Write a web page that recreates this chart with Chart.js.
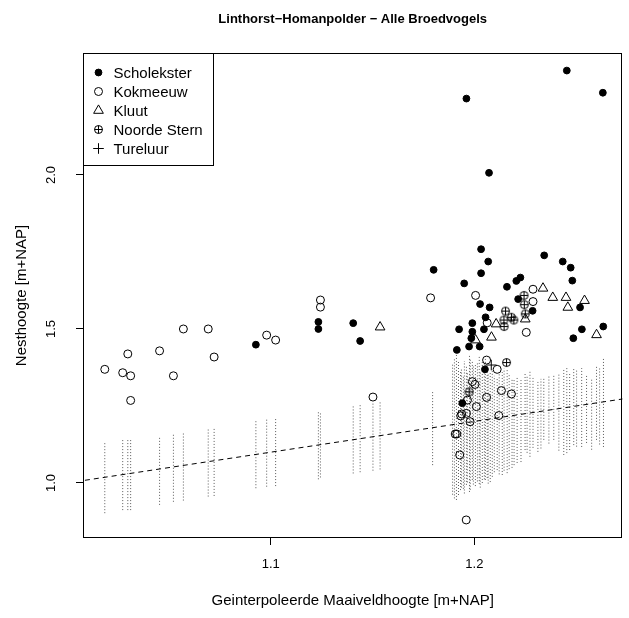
<!DOCTYPE html>
<html>
<head>
<meta charset="utf-8">
<title>Linthorst-Homanpolder - Alle Broedvogels</title>
<script src="https://cdn.jsdelivr.net/npm/chart.js@4.4.1/dist/chart.umd.min.js"></script>
<style>
  html, body { margin: 0; padding: 0; background: #fff; }
  #wrap { width: 629px; height: 618px; }
</style>
</head>
<body>
<div id="wrap"><canvas id="nestChart" width="629" height="618"></canvas></div>
<script>
// axis limits and ticks (R style, 4% extended)
const xMin = 1.0078, xMax = 1.2727;
const yMin = 0.8214, yMax = 2.396;
const xTicks = [1.1, 1.2];
const yTicks = [1.0, 1.5, 2.0];

// reference line nesthoogte = maaiveldhoogte
const ablineA = 0;
const ablineB = 1;

const scholeksterX = [1.0927, 1.1234, 1.1234, 1.1405, 1.1439, 1.180, 1.1961, 1.2454, 1.2631, 1.2072,
  1.2033, 1.2068, 1.2033, 1.195, 1.216, 1.2206, 1.2226, 1.2343, 1.2434, 1.2473,
  1.2481, 1.2028, 1.2075, 1.2215, 1.2286, 1.2519, 1.199, 1.1925, 1.199, 1.2055,
  1.2047, 1.1985, 1.1974, 1.2026, 1.1914, 1.2486, 1.2528, 1.2633, 1.2052, 1.1941];
const scholeksterY = [1.449, 1.523, 1.500, 1.519, 1.461, 1.692, 2.248, 2.339, 2.267, 2.007,
  1.759, 1.719, 1.681, 1.648, 1.637, 1.656, 1.667, 1.739, 1.719, 1.699,
  1.657, 1.581, 1.570, 1.597, 1.559, 1.570, 1.519, 1.499, 1.491, 1.538,
  1.499, 1.470, 1.443, 1.443, 1.432, 1.470, 1.499, 1.508, 1.369, 1.259];

const kokmeeuwX = [1.0185, 1.0273, 1.0312, 1.0298, 1.0312, 1.0454, 1.0522, 1.0571, 1.0693, 1.0722,
  1.098, 1.1024, 1.1244, 1.1244, 1.1502, 1.1785, 1.2006, 1.2288, 1.2288, 1.2255,
  1.2063, 1.206, 1.2112, 1.199, 1.2003, 1.2133, 1.2182, 1.206, 1.1966, 1.201,
  1.1938, 1.1933, 1.1961, 1.1979, 1.212, 1.1914, 1.1906, 1.1928, 1.196];
const kokmeeuwY = [1.369, 1.358, 1.348, 1.419, 1.268, 1.429, 1.348, 1.500, 1.500, 1.409,
  1.480, 1.464, 1.594, 1.571, 1.279, 1.601, 1.609, 1.629, 1.589, 1.489,
  1.520, 1.399, 1.369, 1.329, 1.320, 1.300, 1.289, 1.278, 1.269, 1.248,
  1.224, 1.218, 1.226, 1.199, 1.219, 1.159, 1.159, 1.091, 0.880];

const kluutX = [1.1537, 1.2337, 1.2385, 1.245, 1.2541, 1.2459, 1.26, 1.2084, 1.2006, 1.2107, 1.225];
const kluutY = [1.506, 1.632, 1.602, 1.602, 1.592, 1.570, 1.481, 1.473, 1.464, 1.516, 1.532];

const noordeSternX = [1.2153, 1.2245, 1.225, 1.2145, 1.2194, 1.2146, 1.2244, 1.2182, 1.2158, 1.1974];
const noordeSternY = [1.558, 1.579, 1.549, 1.529, 1.529, 1.508, 1.609, 1.538, 1.391, 1.296];

const tureluurX = [1.2083];
const tureluurY = [1.383];

// dotted ranges of interpolated ground height per nest
const segX = [1.0185, 1.0273, 1.0298, 1.0312, 1.0454, 1.0522, 1.0571, 1.0693, 1.0722, 1.0927,
  1.098, 1.1024, 1.1234, 1.1244, 1.1405, 1.1439, 1.1502, 1.1537, 1.1795, 1.1912,
  1.1922, 1.1932, 1.1946, 1.1961, 1.1976, 1.199, 1.2005, 1.2024, 1.2039, 1.2054,
  1.2063, 1.2078, 1.2112, 1.2137, 1.2161, 1.2185, 1.221, 1.2229, 1.2249, 1.2288,
  1.2312, 1.2341, 1.239, 1.2439, 1.2454, 1.2468, 1.2488, 1.2527, 1.26, 1.2634,
  1.1893, 1.1902, 1.1937, 1.1951, 1.1966, 1.1980, 1.1995, 1.2015, 1.2029, 1.2049,
  1.2068, 1.2088, 1.2098, 1.2122, 1.2146, 1.2171, 1.2195, 1.2259, 1.2273, 1.2327,
  1.2366, 1.2415, 1.2502, 1.2551, 1.2576, 1.2615];
const segLow = [0.902, 0.912, 0.912, 0.912, 0.929, 0.939, 0.943, 0.956, 0.958, 0.983,
  0.988, 0.990, 1.012, 1.018, 1.031, 1.035, 1.040, 1.044, 1.058, 0.945,
  0.961, 0.977, 0.981, 0.994, 0.971, 1.010, 0.990, 0.997, 1.000, 1.010,
  1.016, 1.003, 1.042, 1.026, 1.032, 1.049, 1.065, 1.068, 1.107, 1.114,
  1.101, 1.140, 1.140, 1.091, 1.097, 1.107, 1.123, 1.117, 1.140, 1.117,
  0.962, 0.950, 0.985, 0.966, 1.002, 0.978, 0.995, 1.005, 0.985, 1.012,
  0.998, 1.020, 1.035, 1.028, 1.040, 1.045, 1.058, 1.098, 1.085, 1.112,
  1.128, 1.105, 1.118, 1.130, 1.108, 1.125];
const segHigh = [1.134, 1.140, 1.145, 1.145, 1.150, 1.161, 1.163, 1.177, 1.181, 1.205,
  1.208, 1.210, 1.236, 1.232, 1.252, 1.258, 1.263, 1.268, 1.296, 1.422,
  1.399, 1.367, 1.351, 1.383, 1.416, 1.399, 1.383, 1.412, 1.393, 1.406,
  1.373, 1.360, 1.344, 1.360, 1.367, 1.341, 1.344, 1.334, 1.357, 1.341,
  1.328, 1.344, 1.351, 1.367, 1.373, 1.360, 1.373, 1.373, 1.377, 1.406,
  1.385, 1.405, 1.372, 1.396, 1.360, 1.402, 1.378, 1.392, 1.365, 1.385,
  1.352, 1.371, 1.348, 1.355, 1.372, 1.350, 1.338, 1.350, 1.365, 1.338,
  1.346, 1.358, 1.365, 1.352, 1.340, 1.372];

const FONT = '"Liberation Sans", Arial, Helvetica, sans-serif';

function zip(xs, ys) {
  return xs.map((x, i) => ({ x: x, y: ys[i] }));
}

// pch 10: circle with a plus inside
function makeCircledPlus() {
  const c = document.createElement("canvas");
  c.width = 11;
  c.height = 11;
  const g = c.getContext("2d");
  g.strokeStyle = "#000";
  g.lineWidth = 1;
  g.beginPath();
  g.arc(5.5, 5.5, 4, 0, Math.PI * 2);
  g.stroke();
  g.beginPath();
  g.moveTo(1.5, 5.5); g.lineTo(9.5, 5.5);
  g.moveTo(5.5, 1.5); g.lineTo(5.5, 9.5);
  g.stroke();
  return c;
}
const circledPlus = makeCircledPlus();

const segmentData = segX.flatMap((x, i) => [
  { x: x, y: segLow[i] },
  { x: x, y: segHigh[i] },
  { x: x, y: null },
]);

const ablineData = [
  { x: 1.0, y: ablineA + ablineB * 1.0 },
  { x: 1.3, y: ablineA + ablineB * 1.3 },
];

const species = [
  { label: "Scholekster", x: scholeksterX, y: scholeksterY, style: "circle", radius: 3.4, fill: "#000" },
  { label: "Kokmeeuw", x: kokmeeuwX, y: kokmeeuwY, style: "circle", radius: 4, fill: "rgba(0,0,0,0)" },
  { label: "Kluut", x: kluutX, y: kluutY, style: "triangle", radius: 5.6, fill: "rgba(0,0,0,0)" },
  { label: "Noorde Stern", x: noordeSternX, y: noordeSternY, style: circledPlus, radius: 4, fill: "rgba(0,0,0,0)" },
  { label: "Tureluur", x: tureluurX, y: tureluurY, style: "cross", radius: 5.3, fill: "rgba(0,0,0,0)" },
];

const pointSets = species.map((s) => ({
  type: "scatter",
  label: s.label,
  data: zip(s.x, s.y),
  pointStyle: s.style,
  pointRadius: s.radius,
  pointBackgroundColor: s.fill,
  pointBorderColor: "#000",
  pointBorderWidth: 1,
  order: 0,
}));

const baseGraphics = {
  id: "baseGraphics",
  afterDraw(chart) {
    const c = chart.ctx;
    const area = chart.chartArea;
    const xs = chart.scales.x;
    const ys = chart.scales.y;
    c.save();
    c.strokeStyle = "#000";
    c.fillStyle = "#000";
    c.lineWidth = 1;
    c.strokeRect(Math.round(area.left) + 0.5, Math.round(area.top) + 0.5,
      Math.round(area.right - area.left) - 1, Math.round(area.bottom - area.top) - 1);

    // tick labels
    c.font = "13px " + FONT;
    c.textAlign = "center";
    c.textBaseline = "middle";
    xTicks.forEach((t) => c.fillText(t.toFixed(1), xs.getPixelForValue(t), 564));
    yTicks.forEach((t) => {
      c.save();
      c.translate(51, ys.getPixelForValue(t));
      c.rotate(-Math.PI / 2);
      c.fillText(t.toFixed(1), 0, 0);
      c.restore();
    });

    // axis titles
    const midX = (area.left + area.right) / 2;
    const midY = (area.top + area.bottom) / 2;
    c.font = "15px " + FONT;
    c.fillText("Geinterpoleerde Maaiveldhoogte [m+NAP]", midX, 601);
    c.save();
    c.translate(22, midY);
    c.rotate(-Math.PI / 2);
    c.fillText("Nesthoogte [m+NAP]", 0, 0);
    c.restore();

    c.font = "bold 13px " + FONT;
    c.fillText("Linthorst\u2212Homanpolder \u2212 Alle Broedvogels", midX, 19);

    // legend, top left
    const lx = Math.round(area.left) + 0.5;
    const ly = Math.round(area.top) + 0.5;
    c.fillStyle = "#fff";
    c.fillRect(lx, ly, 130, 112);
    c.strokeRect(lx, ly, 130, 112);
    c.font = "15px " + FONT;
    c.textAlign = "left";
    species.forEach((s, i) => {
      const rowY = ly + 19 + i * 19;
      c.fillStyle = s.fill;
      c.strokeStyle = "#000";
      Chart.helpers.drawPoint(c, { pointStyle: s.style, radius: s.radius, borderWidth: 1, rotation: 0 }, lx + 15, rowY);
      c.fillStyle = "#000";
      c.fillText(s.label, lx + 30, rowY + 1);
    });
    c.restore();
  },
};

Chart.defaults.animation = false;

let nestChart = new Chart(document.getElementById("nestChart").getContext("2d"), {
  type: "scatter",
  data: {
    datasets: pointSets.concat([
      {
        type: "line",
        label: "y = x",
        data: ablineData,
        borderColor: "#000",
        borderWidth: 1,
        borderDash: [5, 4],
        pointRadius: 0,
        order: 1,
      },
      {
        type: "line",
        label: "bereik",
        data: segmentData,
        borderColor: "rgba(0,0,0,0.65)",
        borderWidth: 1,
        borderDash: [1, 2],
        pointRadius: 0,
        spanGaps: false,
        order: 2,
      },
    ]),
  },
  options: {
    responsive: false,
    devicePixelRatio: 1,
    events: [],
    layout: { padding: { left: 0, right: 3, top: 53, bottom: 0 } },
    plugins: {
      legend: { display: false },
      tooltip: { enabled: false },
      title: { display: false },
    },
    scales: {
      x: {
        type: "linear",
        min: xMin,
        max: xMax,
        afterBuildTicks: (s) => { s.ticks = xTicks.map((v) => ({ value: v })); },
        afterFit: (s) => { s.height = 80; },
        ticks: { display: false },
        grid: { drawOnChartArea: false, drawTicks: true, tickLength: 7, color: "#000" },
        border: { display: false },
      },
      y: {
        type: "linear",
        min: yMin,
        max: yMax,
        afterBuildTicks: (s) => { s.ticks = yTicks.map((v) => ({ value: v })); },
        afterFit: (s) => { s.width = 83; },
        ticks: { display: false },
        grid: { drawOnChartArea: false, drawTicks: true, tickLength: 7, color: "#000" },
        border: { display: false },
      },
    },
  },
  plugins: [baseGraphics],
});
</script>
</body>
</html>
